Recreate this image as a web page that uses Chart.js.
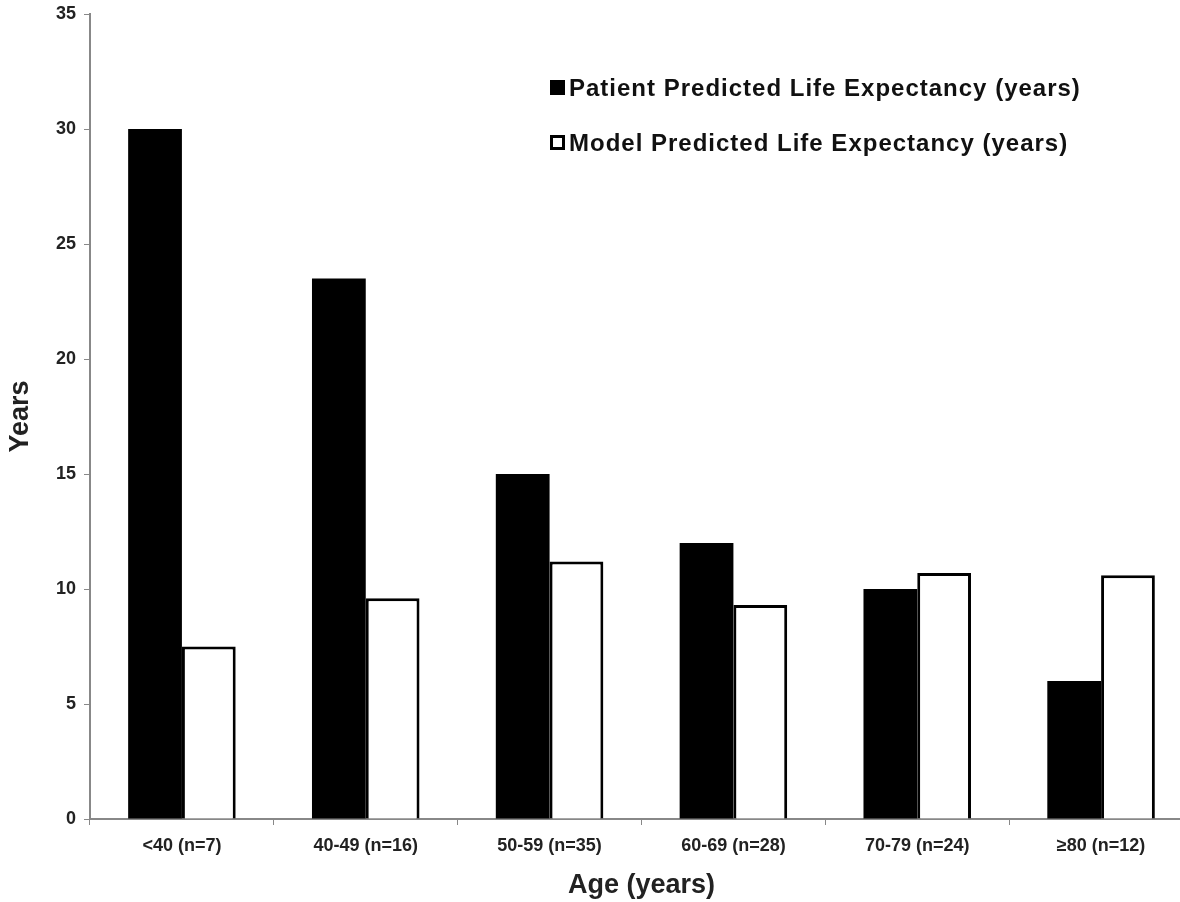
<!DOCTYPE html>
<html>
<head>
<meta charset="utf-8">
<script src="https://cdn.jsdelivr.net/npm/chart.js@4/dist/chart.umd.min.js"></script>
<style>
  html, body { margin: 0; padding: 0; background: #fff; overflow: hidden; }
  #wrap { width: 1196px; height: 902px; }
</style>
</head>
<body>
<div id="wrap"><canvas id="chart"></canvas></div>
<script>
const ageGroups = ['<40 (n=7)', '40-49 (n=16)', '50-59 (n=35)', '60-69 (n=28)', '70-79 (n=24)', '\u226580 (n=12)'];
const patientYears = [30, 23.5, 15, 12, 10, 6];
const modelYears = [7.5, 9.6, 11.2, 9.3, 10.7, 10.6];
const seriesNames = ['Patient Predicted Life Expectancy (years)', 'Model Predicted Life Expectancy (years)'];

const FONT = "'Liberation Sans', Arial, sans-serif";

// legend drawn inside the plot, like the original
const insideLegend = {
  id: 'insideLegend',
  afterDraw(chart) {
    const ctx = chart.ctx;
    ctx.save();
    ctx.font = 'bold 24px ' + FONT;
    ctx.letterSpacing = '1px';
    ctx.textBaseline = 'middle';
    chart.data.datasets.forEach((ds, i) => {
      const y = 88 + i * 55;
      ctx.fillStyle = '#000';
      ctx.fillRect(550, y - 8, 15, 15);
      if (i === 1) {
        ctx.fillStyle = '#fff';
        ctx.fillRect(553, y - 5, 9, 9);
      }
      ctx.fillStyle = '#111';
      ctx.fillText(ds.label, 569, y + 1);
    });
    ctx.restore();
  }
};

new Chart(document.getElementById('chart'), {
  type: 'bar',
  data: {
    labels: ageGroups,
    datasets: [{
      label: seriesNames[0],
      data: patientYears,
      backgroundColor: '#000',
      borderColor: '#000',
      borderWidth: 0
    }, {
      label: seriesNames[1],
      data: modelYears,
      backgroundColor: '#fff',
      borderColor: '#000',
      borderWidth: 3
    }]
  },
  options: {
    responsive: true,
    maintainAspectRatio: false,
    animation: false,
    layout: { padding: { top: 14, right: 3, left: 0, bottom: 0 } },
    datasets: { bar: { categoryPercentage: 0.585, barPercentage: 1 } },
    plugins: {
      legend: { display: false },
      tooltip: { enabled: false }
    },
    scales: {
      x: {
        grid: { display: true, offset: true, drawOnChartArea: false, tickLength: 6, color: '#888' },
        border: { color: '#888', width: 2 },
        ticks: { color: '#222', font: { family: FONT, size: 18, weight: 'bold' }, padding: 10, maxRotation: 0 },
        title: { display: true, text: 'Age (years)', color: '#222', font: { family: FONT, size: 27, weight: 'bold' }, padding: { top: 10, bottom: 0 } },
        afterFit(scale) { scale.height = 83; }
      },
      y: {
        min: 0,
        max: 35,
        ticks: { stepSize: 5, color: '#222', font: { family: FONT, size: 18, weight: 'bold' }, padding: 8 },
        grid: { display: true, drawOnChartArea: false, tickLength: 6, color: '#888' },
        border: { color: '#888', width: 2 },
        title: { display: true, text: 'Years', color: '#222', font: { family: FONT, size: 27, weight: 'bold' }, padding: { top: 4, bottom: 10 } },
        afterFit(scale) {
          scale.width = 90;
          scale.paddingTop = 0;
          scale.paddingBottom = 0;
        }
      }
    }
  },
  plugins: [insideLegend]
});
</script>
</body>
</html>
